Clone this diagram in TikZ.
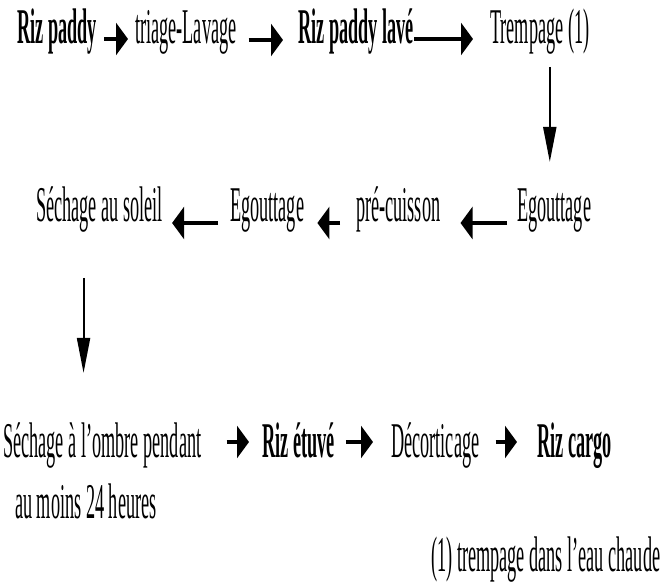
\documentclass[tikz,border=0pt]{standalone}
\usepackage{fontspec}
\setmainfont{Liberation Serif}[FakeStretch=0.365]
\usetikzlibrary{arrows.meta}

\begin{document}
\begin{tikzpicture}[
  x=1pt, y=1pt,
  font=\fontsize{50}{58}\selectfont,
  etape/.style={inner sep=0pt, anchor=base west},
  produit/.style={etape, font=\fontsize{50}{58}\selectfont\bfseries},
  fleche/.style={line width=4pt, -{Triangle[length=12pt,width=32pt]}},
  descente/.style={line width=2pt, -{Triangle[length=35pt,width=13pt]}}]
\useasboundingbox (0,0) rectangle (660,583);
% ligne 1
\node[produit] (paddy) at (17,539) {Riz paddy};
\node[etape] (triage) at (135,539) {triage-Lavage};
\node[produit] (lave) at (298,539) {Riz paddy lavé};
\node[etape] (trempage) at (490,539) {Trempage (1)};
% ligne 2
\node[etape] (egout1) at (517,361) {Egouttage};
\node[etape] (precuisson) at (356,361) {pré-cuisson};
\node[etape] (egout2) at (230,361) {Egouttage};
\node[etape] (soleil) at (36,361) {Séchage au soleil};
% ligne 3
\node[etape] (ombre) at (3,125) {Séchage à l’ombre pendant};
\node[etape] (ombresuite) at (15,65) {au moins 24 heures};
\node[produit] (etuve) at (262,125) {Riz étuvé};
\node[etape] (decort) at (391,125) {Décorticage};
\node[produit] (cargo) at (537,125) {Riz cargo};
% renvoi
\node[etape] (note) at (431,12) {(1) trempage dans l’eau chaude};

\draw[fleche] ([xshift=7pt,yshift=5pt]paddy.base east) -- ([xshift=-7pt,yshift=5pt]triage.base west);
\draw[fleche] ([xshift=12pt,yshift=4pt]triage.base east) -- ([xshift=-15pt,yshift=4pt]lave.base west);
\draw[fleche] ([xshift=0pt,yshift=5pt]lave.base east) -- ([xshift=-17pt,yshift=5pt]trempage.base west);

\coordinate (d1) at ([xshift=10pt,yshift=-23pt]trempage.base);
\draw[descente, shorten >=60pt] (d1) -- (d1 |- egout1.base);

\draw[fleche] ([xshift=-10pt,yshift=-1pt]egout1.base west) -- ([xshift=20pt,yshift=-1pt]precuisson.base east);
\draw[fleche] ([xshift=-16pt,yshift=-1pt]precuisson.base west) -- ([xshift=13pt,yshift=-1pt]egout2.base east);
\draw[fleche] ([xshift=-12pt,yshift=-1pt]egout2.base west) -- ([xshift=9pt,yshift=-1pt]soleil.base east);

\coordinate (d2) at ([xshift=-16pt,yshift=-56pt]soleil.base);
\draw[descente, shorten >=85pt] (d2) -- (d2 |- ombre.base);

\draw[fleche] ([xshift=25pt,yshift=16pt]ombre.base east) -- ([xshift=-13pt,yshift=16pt]etuve.base west);
\draw[fleche] ([xshift=11pt,yshift=16pt]etuve.base east) -- ([xshift=-18pt,yshift=16pt]decort.base west);
\draw[fleche] ([xshift=16pt,yshift=16pt]decort.base east) -- ([xshift=-20pt,yshift=16pt]cargo.base west);
\end{tikzpicture}
\end{document}
